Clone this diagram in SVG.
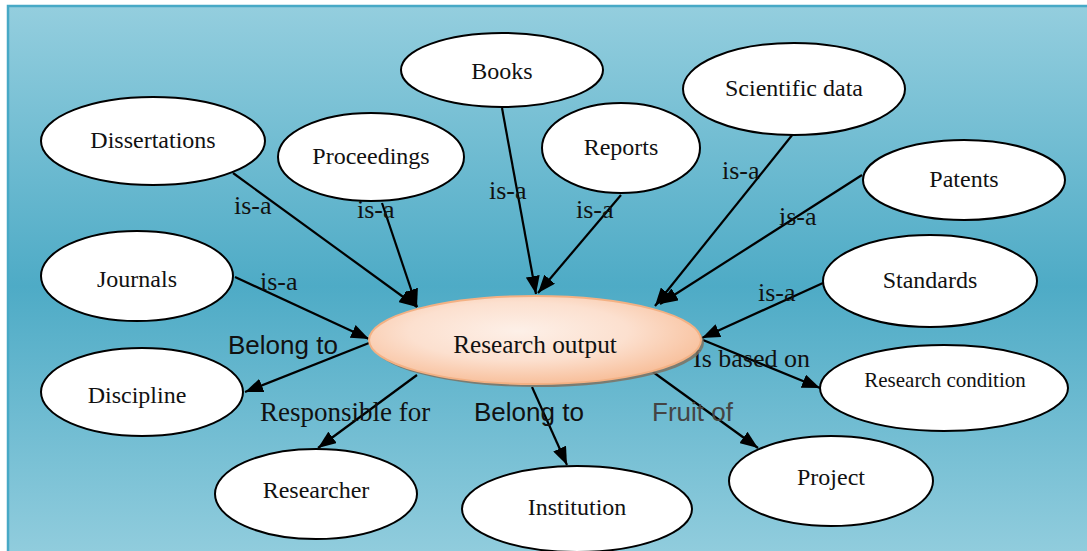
<svg xmlns="http://www.w3.org/2000/svg" width="1087" height="551" viewBox="0 0 1087 551">
<defs>
<linearGradient id="bg" x1="0" y1="0" x2="0" y2="1">
<stop offset="0" stop-color="#94cede"/>
<stop offset="0.5" stop-color="#4eabc6"/>
<stop offset="1" stop-color="#94cede"/>
</linearGradient>
<radialGradient id="ro" cx="0.45" cy="0.4" r="0.6">
<stop offset="0" stop-color="#fdf0e8"/>
<stop offset="0.55" stop-color="#fce0cf"/>
<stop offset="1" stop-color="#f8c09c"/>
</radialGradient>
<marker id="arr" markerUnits="userSpaceOnUse" markerWidth="20" markerHeight="14" refX="18" refY="7" orient="auto">
<path d="M0,0 L18,7 L0,14 z" fill="#000"/>
</marker>
<style>
.n ellipse{fill:#fff;stroke:#000;stroke-width:2}
.t{font-family:"Liberation Serif",serif;font-size:24px;fill:#111;text-anchor:middle}
.e line{stroke:#000;stroke-width:2.2;marker-end:url(#arr)}
.l{font-family:"Liberation Serif",serif;font-size:26px;fill:#111}
.la{font-family:"Liberation Sans",Arial,sans-serif;font-size:26px;fill:#111}
</style>
</defs>
<rect x="8" y="6" width="1090" height="560" fill="url(#bg)" stroke="#47a9c6" stroke-width="2.5"/>
<g id="edges" class="e">
<line x1="233" y1="173" x2="417" y2="307"/>
<line x1="382" y1="203" x2="417" y2="307"/>
<line x1="502" y1="108" x2="536" y2="294"/>
<line x1="621" y1="195" x2="538" y2="293"/>
<line x1="793" y1="134" x2="655" y2="306"/>
<line x1="862" y1="175" x2="660" y2="304"/>
<line x1="823" y1="283" x2="702" y2="338"/>
<line x1="235" y1="277" x2="369" y2="339"/>
<line x1="369" y1="343" x2="245" y2="392"/>
<line x1="417" y1="375" x2="318" y2="448"/>
<line x1="532" y1="387" x2="567" y2="465"/>
<line x1="703" y1="340" x2="820" y2="388"/>
<line x1="653" y1="372" x2="758" y2="448"/>
</g>
<g id="edge-labels">
<text class="l" x="234" y="214">is-a</text>
<text class="l" x="357" y="218">is-a</text>
<text class="l" x="260" y="290">is-a</text>
<text class="l" x="489" y="199">is-a</text>
<text class="l" x="576" y="218">is-a</text>
<text class="l" x="722" y="179">is-a</text>
<text class="l" x="779" y="225">is-a</text>
<text class="l" x="758" y="301">is-a</text>
<text class="la" x="228" y="354">Belong to</text>
<text class="l" x="260" y="421" style="font-size:27px">Responsible for</text>
<text class="la" x="474" y="421">Belong to</text>
<text class="la" x="652" y="421" style="fill:#444">Fruit of</text>
<text class="l" x="693" y="367">Is based on</text>
</g>
<g id="research-output">
<ellipse cx="538" cy="343" rx="166" ry="44" fill="#7d7263" opacity="0.85"/>
<ellipse cx="535" cy="340" rx="166" ry="44" fill="url(#ro)" stroke="#f3b184" stroke-width="2"/>
<text class="t" x="535" y="353" style="font-size:25.3px">Research output</text>
</g>
<g id="books" class="n"><ellipse cx="502" cy="70" rx="101" ry="37"/><text class="t" x="502" y="79">Books</text></g>
<g id="dissertations" class="n"><ellipse cx="153" cy="141" rx="112" ry="44"/><text class="t" x="153" y="148">Dissertations</text></g>
<g id="proceedings" class="n"><ellipse cx="371" cy="157" rx="93" ry="44"/><text class="t" x="371" y="164">Proceedings</text></g>
<g id="reports" class="n"><ellipse cx="621" cy="148" rx="79" ry="45"/><text class="t" x="621" y="155">Reports</text></g>
<g id="scientific-data" class="n"><ellipse cx="794" cy="89" rx="111" ry="46"/><text class="t" x="794" y="96">Scientific data</text></g>
<g id="patents" class="n"><ellipse cx="964" cy="180" rx="101" ry="40"/><text class="t" x="964" y="187">Patents</text></g>
<g id="standards" class="n"><ellipse cx="930" cy="281" rx="107" ry="46"/><text class="t" x="930" y="288">Standards</text></g>
<g id="journals" class="n"><ellipse cx="137" cy="276" rx="96" ry="45"/><text class="t" x="137" y="287">Journals</text></g>
<g id="discipline" class="n"><ellipse cx="142" cy="392" rx="101" ry="44"/><text class="t" x="137" y="403">Discipline</text></g>
<g id="research-condition" class="n"><ellipse cx="944" cy="388" rx="124" ry="43"/><text class="t" x="945" y="387" style="font-size:21px">Research condition</text></g>
<g id="project" class="n"><ellipse cx="831" cy="481" rx="102" ry="45"/><text class="t" x="831" y="485">Project</text></g>
<g id="researcher" class="n"><ellipse cx="316" cy="494" rx="101" ry="45"/><text class="t" x="316" y="498">Researcher</text></g>
<g id="institution" class="n"><ellipse cx="577" cy="509" rx="115" ry="43"/><text class="t" x="577" y="515">Institution</text></g>
</svg>
